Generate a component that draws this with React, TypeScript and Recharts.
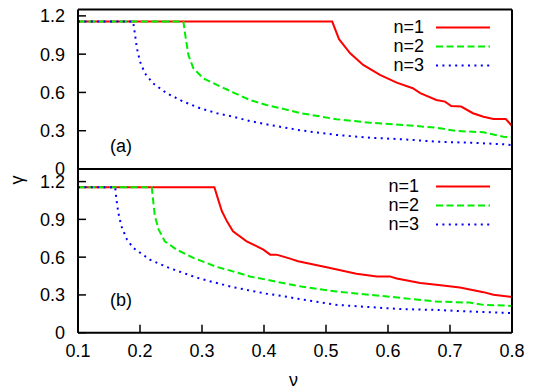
import { LineChart, Line, XAxis, YAxis, Legend } from 'recharts';

const nuTicks = [0.1, 0.2, 0.3, 0.4, 0.5, 0.6, 0.7, 0.8];
const gammaTicks = [0, 0.3, 0.6, 0.9, 1.2];
const seriesNames = ['n=1', 'n=2', 'n=3'];

// panel (a): [nu, gamma]
const topN1 = [
  [0.1, 1.155], [0.51, 1.155], [0.521, 1.017], [0.539, 0.907], [0.56, 0.816], [0.587, 0.737],
  [0.614, 0.677], [0.64, 0.633], [0.652, 0.594], [0.678, 0.541], [0.692, 0.528], [0.702, 0.494],
  [0.718, 0.489], [0.737, 0.437], [0.754, 0.41], [0.77, 0.392], [0.79, 0.392], [0.8, 0.337],
];
const topN2 = [
  [0.1, 1.155], [0.27, 1.155], [0.273, 1.051], [0.278, 0.894], [0.286, 0.79], [0.302, 0.711],
  [0.324, 0.659], [0.35, 0.601], [0.377, 0.541], [0.404, 0.502], [0.431, 0.471], [0.46, 0.437],
  [0.517, 0.39], [0.571, 0.363], [0.624, 0.345], [0.678, 0.324], [0.71, 0.298], [0.754, 0.288],
  [0.786, 0.253], [0.8, 0.249],
];
const topN3 = [
  [0.1, 1.155], [0.189, 1.155], [0.192, 1.051], [0.195, 0.947], [0.2, 0.842], [0.208, 0.75],
  [0.221, 0.672], [0.243, 0.594], [0.27, 0.528], [0.297, 0.476], [0.324, 0.437], [0.35, 0.41],
  [0.377, 0.376], [0.404, 0.35], [0.431, 0.327], [0.46, 0.302], [0.517, 0.267], [0.571, 0.245],
  [0.624, 0.233], [0.678, 0.214], [0.732, 0.206], [0.786, 0.194], [0.8, 0.186],
];

// panel (b): [nu, gamma]
const botN1 = [
  [0.1, 1.155], [0.32, 1.155], [0.326, 1.059], [0.332, 0.966], [0.34, 0.886], [0.35, 0.806],
  [0.372, 0.726], [0.399, 0.66], [0.41, 0.62], [0.42, 0.62], [0.442, 0.588], [0.455, 0.567],
  [0.501, 0.519], [0.549, 0.468], [0.582, 0.447], [0.603, 0.447], [0.614, 0.431], [0.652, 0.394],
  [0.678, 0.381], [0.716, 0.359], [0.754, 0.322], [0.77, 0.301], [0.8, 0.283],
];
const botN2 = [
  [0.1, 1.155], [0.219, 1.155], [0.221, 1.059], [0.224, 0.926], [0.23, 0.82], [0.24, 0.726],
  [0.259, 0.66], [0.286, 0.594], [0.324, 0.522], [0.35, 0.487], [0.377, 0.447], [0.404, 0.421],
  [0.431, 0.394], [0.46, 0.367], [0.517, 0.327], [0.571, 0.301], [0.624, 0.275], [0.678, 0.247],
  [0.732, 0.239], [0.754, 0.221], [0.8, 0.213],
];
const botN3 = [
  [0.1, 1.155], [0.16, 1.155], [0.162, 1.059], [0.165, 0.953], [0.17, 0.846], [0.179, 0.74],
  [0.189, 0.674], [0.216, 0.58], [0.243, 0.522], [0.27, 0.474], [0.297, 0.429], [0.324, 0.394],
  [0.35, 0.362], [0.377, 0.335], [0.404, 0.31], [0.431, 0.29], [0.46, 0.265], [0.517, 0.221],
  [0.571, 0.203], [0.624, 0.187], [0.678, 0.181], [0.732, 0.168], [0.8, 0.155],
];

const colors = ['#ff0000', '#00ee00', '#0000ff'];
const dashes = [undefined, '7 3.5', '2 4.4'];
const font = '"Liberation Sans", Arial, sans-serif';

const toPoints = (pairs: number[][]) => pairs.map(([nu, g]) => ({ nu, g }));

const LegendBox = ({ textWidth }: { textWidth: number }) => (
  <div style={{ width: 120, fontSize: 18, lineHeight: '19px', color: '#000', fontFamily: font }}>
    {seriesNames.map((name, i) => (
      <div key={name} style={{ display: 'flex', alignItems: 'center', height: 19 }}>
        <span style={{ width: textWidth, textAlign: 'right' }}>{name}</span>
        <svg width={54} height={19} style={{ marginLeft: 120 - 54 - textWidth, display: 'block' }}>
          <line x1={0} y1={9.5} x2={54} y2={9.5} stroke={colors[i]} strokeWidth={2} strokeDasharray={dashes[i]} />
        </svg>
      </div>
    ))}
  </div>
);

interface PanelProps {
  series: number[][][];
  yMax: number;
  height: number;
  margin: { top: number; right: number; bottom: number; left: number };
  bottomHeight: number;
  labelled: boolean;
  legendTop: number;
  textWidth: number;
}

function Panel({ series, yMax, height, margin, bottomHeight, labelled, legendTop, textWidth }: PanelProps) {
  const tickStyle = { fill: '#000', fontSize: 18, fontFamily: font };
  return (
    <LineChart width={545} height={height} margin={margin}>
      <XAxis
        xAxisId="bottom"
        type="number"
        dataKey="nu"
        domain={[0.1, 0.8]}
        ticks={nuTicks}
        orientation="bottom"
        height={bottomHeight}
        stroke="#000"
        axisLine={{ stroke: '#000', strokeWidth: 2 }}
        tickLine={labelled ? { stroke: '#000', strokeWidth: 1.5 } : false}
        tickSize={-8}
        tickMargin={20}
        tick={labelled ? tickStyle : false}
      />
      <XAxis
        xAxisId="top"
        type="number"
        dataKey="nu"
        domain={[0.1, 0.8]}
        ticks={nuTicks}
        orientation="top"
        height={1}
        axisLine={{ stroke: '#000', strokeWidth: 2 }}
        tickLine={labelled ? { stroke: '#000', strokeWidth: 1.5 } : false}
        tickSize={-8}
        tick={false}
      />
      <YAxis
        yAxisId="left"
        type="number"
        domain={[0, yMax]}
        ticks={gammaTicks}
        width={78}
        axisLine={{ stroke: '#000', strokeWidth: 2 }}
        tickLine={{ stroke: '#000', strokeWidth: 1.5 }}
        tickSize={-8}
        tickMargin={21}
        tick={tickStyle}
      />
      <YAxis
        yAxisId="right"
        orientation="right"
        type="number"
        domain={[0, yMax]}
        ticks={gammaTicks}
        width={1}
        axisLine={{ stroke: '#000', strokeWidth: 2 }}
        tickLine={{ stroke: '#000', strokeWidth: 1.5 }}
        tickSize={-8}
        tick={false}
      />
      <Legend
        layout="horizontal"
        verticalAlign="middle"
        wrapperStyle={{ position: 'absolute', left: 370, top: legendTop, width: 120 }}
        content={() => <LegendBox textWidth={textWidth} />}
      />
      {series.map((pairs, i) => (
        <Line
          key={seriesNames[i]}
          name={seriesNames[i]}
          data={toPoints(pairs)}
          dataKey="g"
          xAxisId="bottom"
          yAxisId="left"
          type="linear"
          stroke={colors[i]}
          strokeWidth={2}
          strokeDasharray={dashes[i]}
          dot={false}
          activeDot={false}
          isAnimationActive={false}
        />
      ))}
    </LineChart>
  );
}

export default function App() {
  const textStyle = { position: 'absolute' as const, fontSize: 18, fontFamily: font, color: '#000', lineHeight: 1 };
  return (
    <div style={{ position: 'absolute', left: 0, top: 0, width: 545, height: 390, background: '#fff', fontFamily: font }}>
      <div style={{ position: 'absolute', left: 0, top: 0 }}>
        <Panel
          series={[topN1, topN2, topN3]}
          yMax={1.25}
          height={185}
          margin={{ top: 8.5, right: 32, bottom: 15, left: 0 }}
          bottomHeight={1}
          labelled={false}
          legendTop={18}
          textWidth={54}
        />
      </div>
      <div style={{ position: 'absolute', left: 0, top: 160 }}>
        <Panel
          series={[botN1, botN2, botN3]}
          yMax={1.3}
          height={230}
          margin={{ top: 8, right: 32, bottom: 17.3, left: 0 }}
          bottomHeight={40}
          labelled={true}
          legendTop={16.5}
          textWidth={49}
        />
      </div>
      <div style={{ ...textStyle, left: 110, top: 137 }}>(a)</div>
      <div style={{ ...textStyle, left: 110, top: 291 }}>(b)</div>
      <div style={{ ...textStyle, left: 289, top: 371 }}>ν</div>
      <div style={{ ...textStyle, left: 12, top: 171, transform: 'rotate(-90deg)' }}>γ</div>
    </div>
  );
}
